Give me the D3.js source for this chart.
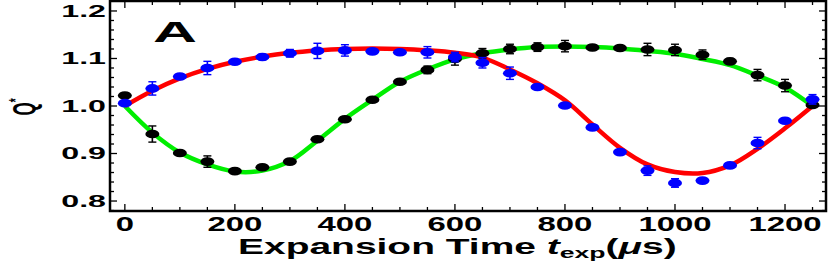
<!DOCTYPE html>
<html><head><meta charset="utf-8">
<script src="https://cdn.jsdelivr.net/npm/d3@7"></script>
<style>body{margin:0;background:#fff}svg{display:block}text{font-family:"Liberation Sans",Arial,sans-serif;font-weight:bold}</style>
</head><body><svg id="c" width="831" height="263"></svg>
<script>
// ---- data ----
const tPoints = [0,50,100,150,200,250,300,350,400,450,500,550,600,650,700,750,800,850,900,950,1000,1050,1100,1150,1200,1250];
const blackQ = [1.022,0.941,0.901,0.883,0.863,0.871,0.883,0.930,0.972,1.013,1.051,1.076,1.099,1.111,1.120,1.124,1.126,1.123,1.122,1.119,1.118,1.108,1.094,1.065,1.043,1.002];
const blackErr = [0.006,0.017,0.005,0.012,0.004,0.005,0.004,0.005,0.005,0.004,0.005,0.008,0.013,0.010,0.010,0.009,0.012,0.006,0.005,0.013,0.012,0.010,0.006,0.012,0.013,0.004];
const blueQ = [1.006,1.037,1.062,1.080,1.093,1.103,1.111,1.116,1.117,1.115,1.113,1.113,1.103,1.091,1.069,1.040,1.001,0.955,0.903,0.864,0.838,0.843,0.875,0.922,0.969,1.014];
const blueErr = [0.004,0.014,0.006,0.014,0.005,0.006,0.008,0.016,0.012,0.005,0.005,0.012,0.010,0.011,0.013,0.005,0.005,0.005,0.005,0.010,0.009,0.005,0.005,0.012,0.005,0.010];
const curveT = [0,50,100,150,200,250,300,350,400,450,500,550,600,650,700,750,800,850,900,950,1000,1050,1100,1150,1200,1250];
const redFit = [1.000,1.032,1.058,1.078,1.093,1.104,1.112,1.117,1.120,1.121,1.120,1.117,1.112,1.102,1.077,1.048,1.012,0.961,0.912,0.877,0.861,0.859,0.875,0.910,0.953,1.000];
const greenFit = [1.000,0.944,0.902,0.877,0.862,0.864,0.884,0.927,0.973,1.013,1.051,1.077,1.098,1.111,1.119,1.124,1.125,1.124,1.121,1.116,1.110,1.099,1.086,1.064,1.039,1.000];
const xTickLabels = ["0","200","400","600","800","1000","1200"];
const yTickLabels = ["0.8","0.9","1.0","1.1","1.2"];
const panelLabel = "A";

// ---- layout ----
const L = 110, R = 826, T = 1, B = 211;
const x = d3.scaleLinear().domain([-27, 1274.5]).range([L, R]);
const y = d3.scaleLinear().domain([0.779, 1.221]).range([B, T]);
const svg = d3.select("#c");

function stretch(sel, targetW) {
  const w = sel.node().getBBox().width;
  return targetW / w;
}

// curves
const line = d3.line().x(d => x(d[0])).y(d => y(d[1])).curve(d3.curveCatmullRom.alpha(0.5));
svg.append("path").datum(curveT.map((t,i)=>[t,greenFit[i]])).attr("d", line)
  .attr("fill","none").attr("stroke","#00ee00").attr("stroke-width",4.5);
svg.append("path").datum(curveT.map((t,i)=>[t,redFit[i]])).attr("d", line)
  .attr("fill","none").attr("stroke","#ff0000").attr("stroke-width",4.5);

// points with error bars
function drawSeries(vals, errs, color) {
  const g = svg.append("g");
  tPoints.forEach((t,i) => {
    const cx = x(t), v = vals[i], e = errs[i];
    g.append("line").attr("x1",cx).attr("x2",cx).attr("y1",y(v-e)).attr("y2",y(v+e)).attr("stroke",color).attr("stroke-width",1.6);
    [v-e, v+e].forEach(b => g.append("line").attr("x1",cx-4).attr("x2",cx+4).attr("y1",y(b)).attr("y2",y(b)).attr("stroke",color).attr("stroke-width",1.4));
    g.append("ellipse").attr("cx",cx).attr("cy",y(v)).attr("rx",7).attr("ry",4.3).attr("fill",color);
  });
}
drawSeries(blackQ, blackErr, "#000");
drawSeries(blueQ, blueErr, "#0000ff");

// frame
svg.append("rect").attr("x",L).attr("y",T).attr("width",R-L).attr("height",B-T)
  .attr("fill","none").attr("stroke","#000").attr("stroke-width",2.5);

// ticks
const tk = svg.append("g").attr("stroke","#000").attr("stroke-width",1.3);
d3.range(0, 1251, 50).forEach(t => {
  const len = (t % 200 === 0) ? 7 : 4;
  tk.append("line").attr("x1",x(t)).attr("x2",x(t)).attr("y1",B).attr("y2",B-len);
  tk.append("line").attr("x1",x(t)).attr("x2",x(t)).attr("y1",T).attr("y2",T+len);
});
d3.range(0, 22).map(i => 0.78 + i*0.02).forEach(v => {
  const major = Math.abs(Math.round(v*10) - v*10) < 1e-6;
  const len = major ? 7 : 4;
  tk.append("line").attr("x1",L).attr("x2",L+len).attr("y1",y(v)).attr("y2",y(v));
  tk.append("line").attr("x1",R).attr("x2",R-len).attr("y1",y(v)).attr("y2",y(v));
});

// tick labels
yTickLabels.forEach(s => {
  const g = svg.append("g");
  const t = g.append("text").attr("text-anchor","end").attr("font-size",16).attr("dy","0.36em").text(s);
  const sx = stretch(t, 45 * s.length / 3);
  g.attr("transform",`translate(106,${y(+s)}) scale(${sx},1)`);
});
xTickLabels.forEach(s => {
  const g = svg.append("g");
  const t = g.append("text").attr("text-anchor","middle").attr("font-size",21).text(s);
  const sx = stretch(t, 18.3 * s.length);
  g.attr("transform",`translate(${x(+s)},231) scale(${sx},1)`);
});

// axis title
{
  const g = svg.append("g");
  const t = g.append("text").attr("font-size",22);
  t.append("tspan").text("Expansion Time ");
  t.append("tspan").attr("font-style","italic").text("t");
  t.append("tspan").attr("font-size",15).attr("dy",4).text("exp");
  t.append("tspan").attr("dy",-4).text("(");
  t.append("tspan").attr("font-style","italic").text("\u03bc");
  t.append("tspan").text("s)");
  const sx = stretch(t, 439);
  g.attr("transform",`translate(238,254) scale(${sx},1)`);
}

// y label
{
  const g = svg.append("g");
  const t = g.append("text").attr("text-anchor","middle").attr("font-size",17);
  t.append("tspan").text("Q");
  t.append("tspan").attr("font-size",10).attr("dy",-7).text("*");
  g.attr("transform",`translate(35,107) scale(1.8,1) rotate(-90)`);
}

// panel label
{
  const g = svg.append("g");
  const t = g.append("text").attr("font-size",30).text(panelLabel);
  const sx = stretch(t, 44);
  g.attr("transform",`translate(153,42) scale(${sx},1)`);
}
</script></body></html>
